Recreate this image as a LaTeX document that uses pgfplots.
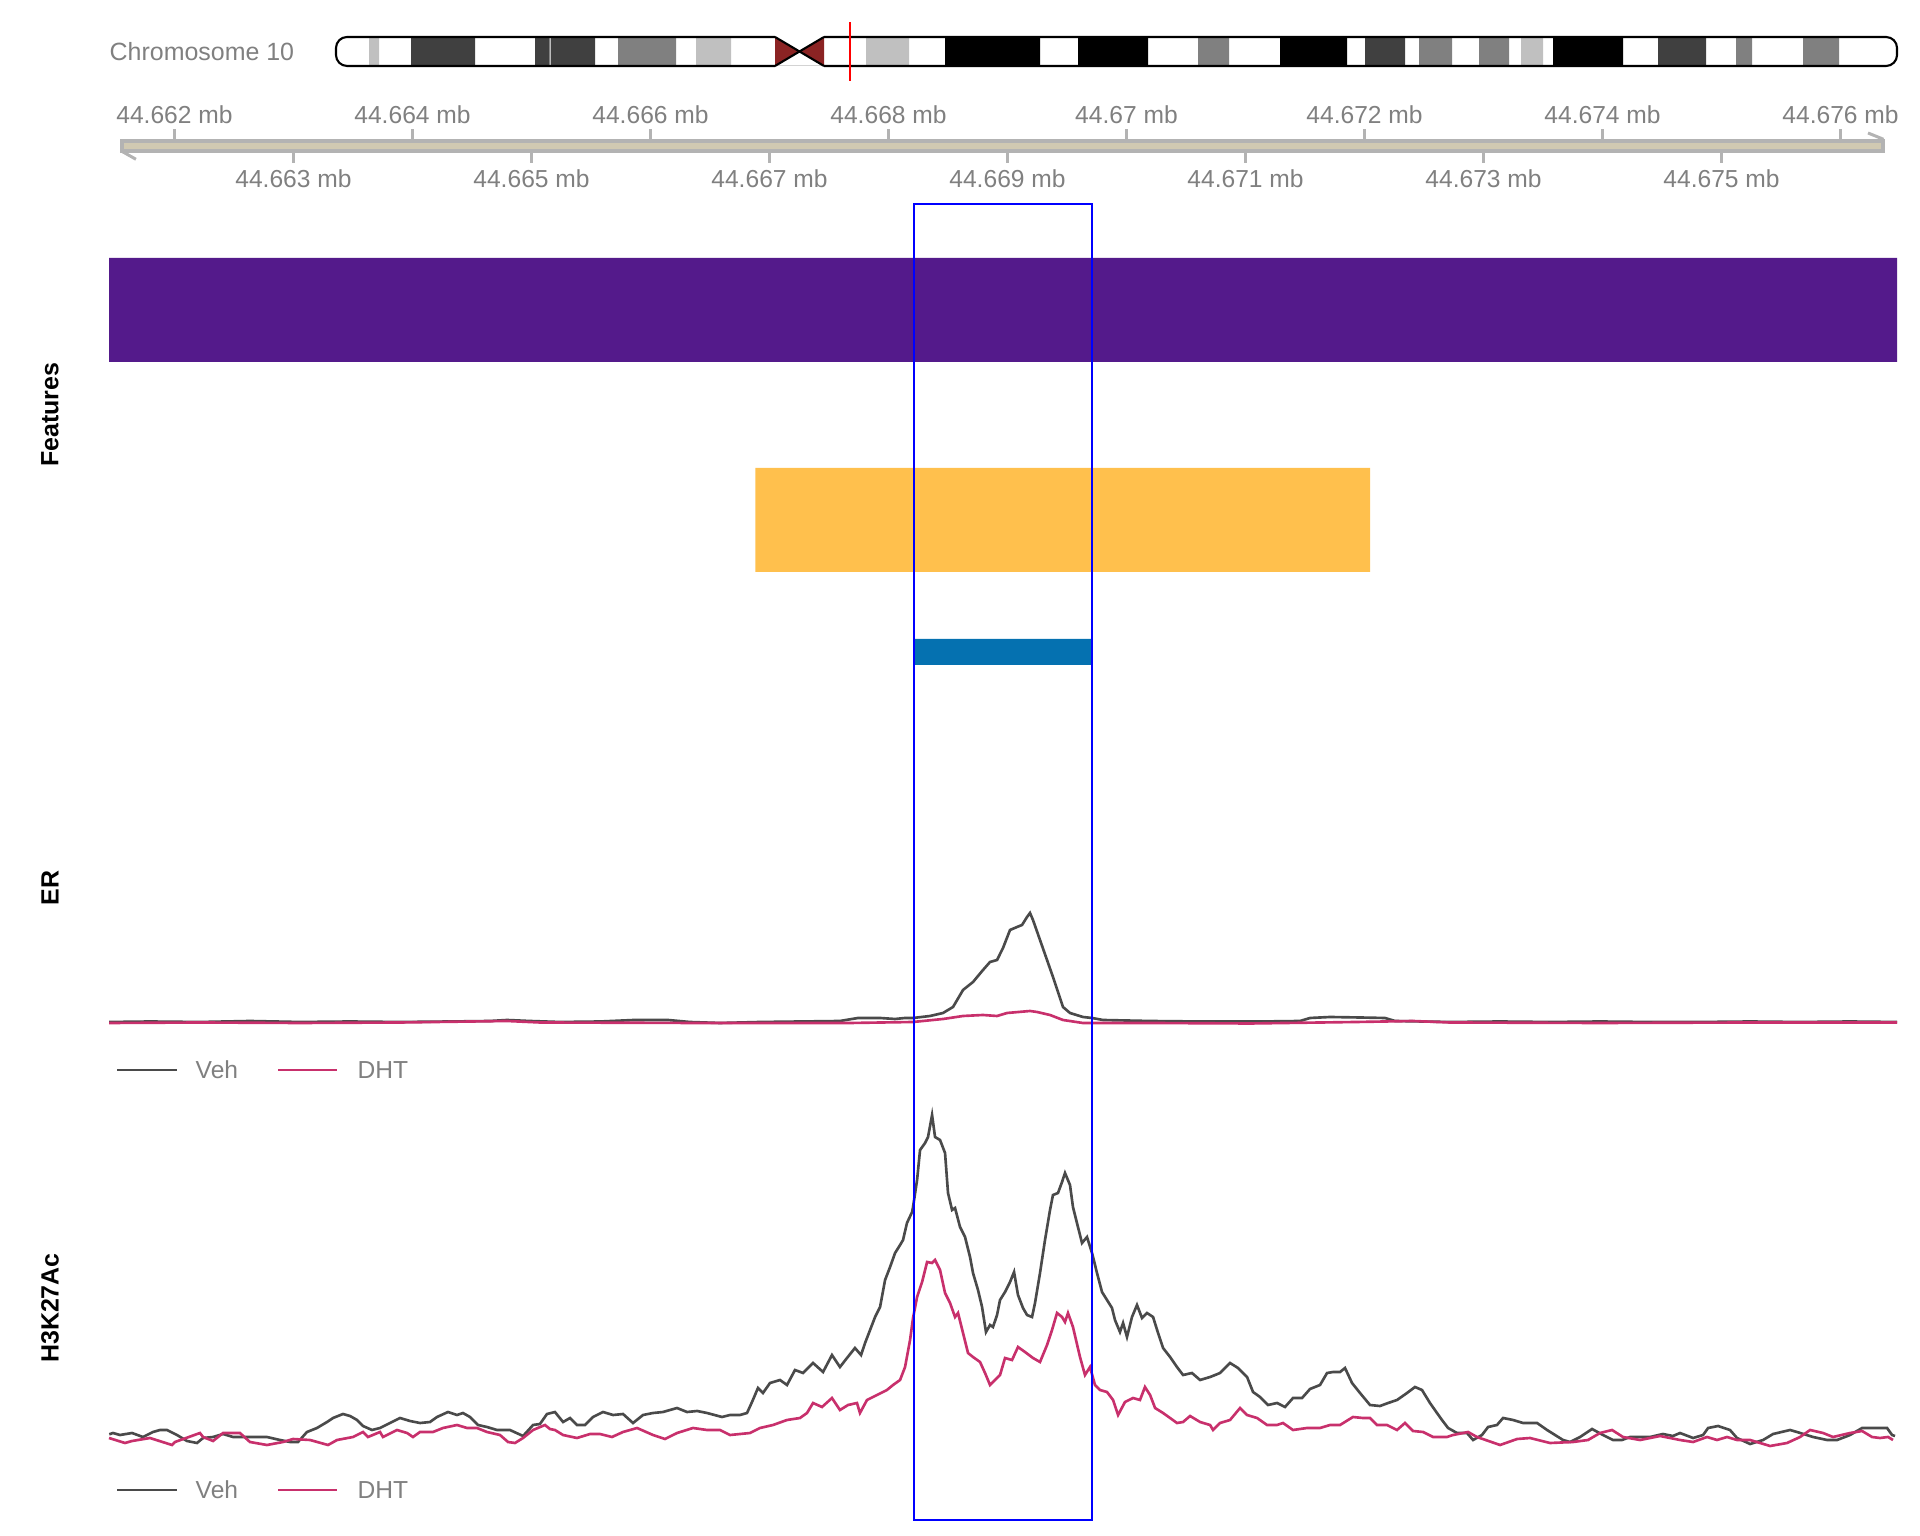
\documentclass[border=0pt]{standalone}
\usepackage{fontspec}
\setmainfont{Liberation Sans}
\usepackage{pgfplots}
\pgfplotsset{compat=1.18}
\definecolor{veh}{HTML}{4A4A4A}
\definecolor{dht}{HTML}{C8306C}
\definecolor{purp}{HTML}{541A8B}
\definecolor{orng}{HTML}{FFC04D}
\definecolor{fblue}{HTML}{0571B0}
\definecolor{cen}{HTML}{8B2323}
\definecolor{lab}{HTML}{808080}
\definecolor{bargray}{HTML}{B3B3B3}
\definecolor{barfill}{HTML}{D0C9B2}
\definecolor{bandA}{HTML}{C0C0C0}
\definecolor{bandB}{HTML}{808080}
\definecolor{bandC}{HTML}{404040}
\pgfplotsset{trk/.style={scale only axis, axis lines=none, xtick=\empty, ytick=\empty,
  xmin=1.4496, xmax=16.4745, width=17.88cm, anchor=south west, clip=false}}

\pgfplotstableread{
x y
1.452 2.57
1.483 2.7
1.542 2.5
1.643 2.7
1.735 2.3
1.819 2.8
1.878 3.0
1.937 3.0
2.021 2.5
2.105 1.9
2.189 1.7
2.240 2.2
2.324 2.3
2.408 2.6
2.492 2.3
2.634 2.3
2.777 2.3
2.887 2.0
2.971 1.8
3.038 1.8
3.113 2.8
3.197 3.2
3.282 3.8
3.332 4.2
3.416 4.6
3.475 4.4
3.534 4.0
3.584 3.4
3.660 3.0
3.727 3.2
3.811 3.7
3.895 4.2
3.979 3.9
4.063 3.7
4.147 3.8
4.206 4.3
4.298 4.8
4.374 4.5
4.424 4.7
4.483 4.3
4.550 3.5
4.626 3.3
4.710 3.0
4.819 3.0
4.929 2.4
5.013 3.5
5.071 3.6
5.130 4.6
5.197 4.8
5.265 3.8
5.324 4.2
5.382 3.5
5.450 3.5
5.517 4.3
5.601 4.8
5.685 4.5
5.769 4.6
5.853 3.7
5.937 4.5
6.021 4.7
6.105 4.8
6.223 5.2
6.307 4.8
6.391 4.9
6.475 4.7
6.601 4.3
6.668 4.5
6.752 4.5
6.811 4.7
6.853 5.8
6.903 7.2
6.945 6.7
7.004 7.7
7.088 8.0
7.147 7.5
7.214 9.0
7.282 8.7
7.366 9.7
7.450 8.8
7.525 10.5
7.592 9.3
7.651 10.2
7.718 11.2
7.769 10.5
7.803 11.7
7.845 13.0
7.887 14.3
7.929 15.3
7.971 18.0
8.013 19.3
8.055 20.7
8.097 21.5
8.122 22.0
8.155 23.7
8.198 24.8
8.206 25.3
8.240 28.0
8.265 31.0
8.307 31.7
8.332 32.3
8.366 34.5
8.391 32.3
8.433 32.0
8.475 30.7
8.500 26.7
8.534 25.0
8.559 25.2
8.601 23.3
8.643 22.3
8.685 20.3
8.710 18.7
8.752 17.0
8.786 15.3
8.819 12.8
8.853 13.5
8.878 13.3
8.912 14.5
8.937 16.0
8.979 16.8
9.021 17.8
9.055 18.8
9.088 16.5
9.130 15.2
9.164 14.5
9.206 14.3
9.231 15.7
9.273 18.7
9.315 22.0
9.357 25.0
9.382 26.5
9.424 26.7
9.458 27.8
9.483 28.7
9.525 27.5
9.550 25.3
9.592 23.3
9.626 21.7
9.668 22.3
9.710 20.7
9.752 18.7
9.794 16.8
9.836 16.0
9.878 15.2
9.903 14.0
9.945 12.8
9.971 13.7
10.004 12.3
10.046 14.3
10.088 15.5
10.130 14.2
10.172 14.7
10.223 14.3
10.265 12.7
10.307 11.2
10.366 10.3
10.424 9.3
10.475 8.5
10.550 8.7
10.618 8.0
10.702 8.3
10.786 8.7
10.870 9.7
10.937 9.2
11.013 8.3
11.063 6.8
11.122 6.3
11.189 5.5
11.265 5.7
11.332 5.3
11.399 6.2
11.475 6.2
11.542 7.1
11.626 7.5
11.685 8.7
11.735 8.8
11.794 8.8
11.836 9.2
11.895 7.7
11.962 6.7
12.046 5.5
12.130 5.4
12.198 5.7
12.273 6.0
12.357 6.7
12.424 7.3
12.483 7.0
12.550 5.7
12.609 4.7
12.651 4.0
12.702 3.2
12.777 2.7
12.861 2.7
12.912 2.0
12.987 2.5
13.038 3.3
13.113 3.5
13.164 4.2
13.248 4.0
13.332 3.7
13.450 3.7
13.534 3.0
13.601 2.5
13.668 2.0
13.727 1.8
13.811 2.3
13.912 3.1
14.004 2.5
14.088 2.0
14.164 2.0
14.231 2.3
14.315 2.3
14.399 2.3
14.508 2.6
14.592 2.4
14.651 2.7
14.761 2.2
14.845 2.5
14.887 3.2
14.971 3.4
15.071 3.0
15.130 2.2
15.240 1.6
15.349 2.0
15.433 2.6
15.576 3.0
15.634 2.8
15.769 2.3
15.887 2.0
15.971 2.0
16.080 2.5
16.181 3.2
16.273 3.2
16.391 3.2
16.433 2.5
16.458 2.4
}\acVeh

\pgfplotstableread{
x y
1.450 2.2
1.584 1.7
1.643 1.9
1.794 2.2
1.979 1.5
2.004 1.8
2.214 2.7
2.240 2.3
2.324 1.9
2.408 2.7
2.550 2.7
2.634 1.8
2.777 1.5
2.912 1.8
2.996 2.1
3.139 2.0
3.290 1.5
3.366 2.0
3.500 2.3
3.584 2.8
3.626 2.3
3.727 2.8
3.752 2.3
3.870 3.0
3.954 2.7
4.004 2.3
4.063 2.8
4.172 2.8
4.256 3.2
4.374 3.5
4.458 3.2
4.542 3.2
4.626 2.8
4.735 2.5
4.803 1.8
4.861 1.7
4.929 2.2
5.013 3.0
5.113 3.5
5.155 3.1
5.197 3.0
5.265 2.5
5.382 2.2
5.492 2.6
5.576 2.6
5.676 2.3
5.769 2.8
5.887 3.2
6.021 2.5
6.122 2.1
6.223 2.7
6.357 3.2
6.475 3.0
6.584 3.0
6.668 2.5
6.752 2.6
6.836 2.7
6.920 3.2
7.029 3.5
7.147 4.0
7.256 4.2
7.315 4.7
7.366 5.7
7.441 5.3
7.525 6.2
7.592 5.0
7.660 5.5
7.735 5.7
7.760 4.7
7.819 6.0
7.903 6.5
7.987 7.0
8.038 7.5
8.097 8.0
8.139 9.3
8.181 12.0
8.206 14.2
8.240 16.3
8.282 17.8
8.324 19.8
8.366 19.7
8.391 20.0
8.433 19.0
8.475 16.7
8.517 15.7
8.559 14.3
8.584 14.7
8.626 12.7
8.668 10.7
8.710 10.3
8.769 9.8
8.811 8.7
8.853 7.5
8.895 8.0
8.937 8.5
8.979 10.2
9.038 10.0
9.088 11.3
9.147 10.8
9.214 10.2
9.273 9.8
9.332 11.5
9.374 13.0
9.416 14.7
9.458 14.3
9.483 13.8
9.508 14.7
9.550 13.3
9.609 10.3
9.651 8.5
9.693 9.3
9.735 7.5
9.777 7.0
9.836 6.8
9.887 6.0
9.929 4.5
9.987 5.8
10.055 6.2
10.113 6.0
10.155 7.3
10.198 6.5
10.240 5.2
10.307 4.7
10.366 4.2
10.424 3.7
10.475 3.8
10.534 4.4
10.618 3.8
10.702 3.5
10.727 3.0
10.786 3.7
10.870 4.0
10.954 5.2
11.013 4.5
11.097 4.2
11.181 3.5
11.265 3.5
11.315 3.7
11.399 3.0
11.517 3.2
11.626 3.2
11.710 3.5
11.794 3.5
11.903 4.3
11.987 4.2
12.046 4.2
12.105 3.5
12.189 3.5
12.273 3.0
12.340 3.7
12.408 2.9
12.492 2.8
12.576 2.3
12.693 2.3
12.744 2.5
12.870 2.8
12.945 2.3
13.139 1.5
13.282 2.1
13.391 2.2
13.559 1.7
13.752 1.8
13.878 2.0
13.979 2.7
14.080 3.0
14.172 2.3
14.315 2.0
14.483 2.4
14.651 2.0
14.761 1.8
14.878 2.3
14.962 2.0
15.046 2.3
15.130 2.0
15.240 2.0
15.408 1.4
15.550 1.7
15.660 2.3
15.744 3.0
15.853 2.7
15.937 2.3
16.080 2.7
16.181 2.9
16.265 2.3
16.332 2.2
16.399 2.3
16.441 2.0
}\acDht

\pgfplotstableread{
x y
1.450 1.8
1.794 1.85
2.214 1.8
2.634 1.9
3.055 1.8
3.475 1.85
3.895 1.8
4.315 1.85
4.651 1.9
4.794 2.0
4.987 1.9
5.240 1.8
5.576 1.85
5.861 2.0
6.147 2.0
6.332 1.8
6.584 1.7
6.920 1.8
7.256 1.85
7.592 1.9
7.744 2.2
7.929 2.2
8.055 2.1
8.139 2.2
8.206 2.2
8.349 2.4
8.458 2.7
8.542 3.3
8.626 5.0
8.710 5.8
8.794 7.0
8.853 7.8
8.912 8.0
8.962 9.2
9.021 11.0
9.080 11.3
9.122 11.5
9.164 12.3
9.189 12.7
9.214 12.0
9.273 10.0
9.382 6.3
9.466 3.3
9.525 2.7
9.634 2.3
9.710 2.2
9.803 2.0
10.198 1.9
10.618 1.85
11.122 1.85
11.458 1.9
11.542 2.2
11.710 2.3
11.962 2.25
12.172 2.2
12.256 1.9
12.718 1.8
13.139 1.85
13.559 1.8
13.979 1.85
14.399 1.8
14.819 1.8
15.240 1.85
15.660 1.8
16.080 1.85
16.475 1.8
}\erVeh

\pgfplotstableread{
x y
1.450 1.7
2.214 1.75
3.055 1.7
3.895 1.75
4.794 1.9
5.071 1.75
6.416 1.7
7.677 1.7
8.206 1.8
8.458 2.1
8.626 2.4
8.794 2.5
8.912 2.4
8.996 2.7
9.189 2.9
9.248 2.8
9.357 2.5
9.466 2.0
9.634 1.7
10.198 1.7
11.038 1.65
11.929 1.8
12.408 1.9
12.718 1.75
13.979 1.7
15.240 1.75
16.475 1.75
}\erDht

\begin{document}
\begin{tikzpicture}[font=\fontsize{7}{8.4}\selectfont]
\path[use as bounding box] (0,0) rectangle (19.2,15.36);

% ---------- ideogram ----------
\begin{axis}[scale only axis, axis lines=none, xtick=\empty, ytick=\empty, clip=false,
  xmin=0, xmax=1920, ymin=0, ymax=1, width=19.2cm, height=0.29cm,
  at={(0cm,14.70cm)}, anchor=south west]
\addplot[const plot, fill=bandA, draw=none] coordinates {(369,1)(379,0)(696,1)(731,0)(866,1)(909,0)(1521,1)(1543,0)} \closedcycle;
\addplot[const plot, fill=bandB, draw=none] coordinates {(618,1)(676,0)(1198,1)(1229,0)(1419,1)(1452,0)(1479,1)(1509,0)(1736,1)(1752,0)(1803,1)(1839,0)} \closedcycle;
\addplot[const plot, fill=bandC, draw=none] coordinates {(411,1)(475,0)(535,1)(549.5,0)(550.5,1)(595,0)(1365,1)(1405,0)(1658,1)(1706,0)} \closedcycle;
\addplot[const plot, fill=black, draw=none] coordinates {(945,1)(1040,0)(1078,1)(1148,0)(1280,1)(1347,0)(1553,1)(1623,0)} \closedcycle;
\addplot[fill=cen, draw=none] coordinates {(775,1)(799,0.5)(775,0)(775,1)};
\addplot[fill=cen, draw=none] coordinates {(824,1)(799,0.5)(824,0)(824,1)};
\addplot[draw=black, line width=0.6pt, rounded corners=0.11cm] coordinates {(775,1)(336,1)(336,0)(775,0)};
\addplot[draw=black, line width=0.6pt, rounded corners=0.11cm] coordinates {(824,1)(1897,1)(1897,0)(824,0)};
\addplot[draw=black, line width=0.6pt] coordinates {(775,1)(824,0)};
\addplot[draw=black, line width=0.6pt] coordinates {(775,0)(824,1)};
\addplot[draw=red, line width=0.7pt] coordinates {(850,-0.517)(850,1.517)};
\end{axis}
\node[anchor=west, inner sep=0pt, text=lab, font=\fontsize{7.1}{8.5}\selectfont] at (1.09,14.84) {Chromosome 10};

% ---------- genome axis ----------
\begin{scope}[x=1.19cm, xshift=-0.635cm]
\draw[bargray, fill=barfill, line width=0.04cm] (1.559,13.95) rectangle (16.357,13.85);
\draw[bargray, line width=0.03cm] (1.563,13.843) -- (1.676,13.767);
\draw[bargray, line width=0.03cm] (16.231,14.03) -- (16.361,13.967);
\foreach \x/\l in {2/44.662,4/44.664,6/44.666,8/44.668,10/44.67,12/44.672,14/44.674,16/44.676}{
  \draw[bargray, line width=0.025cm] (\x,13.97) -- (\x,14.07);
  \node[text=lab, inner sep=0pt] at (\x,14.21) {\l\ mb};
}
\foreach \x/\l in {3/44.663,5/44.665,7/44.667,9/44.669,11/44.671,13/44.673,15/44.675}{
  \draw[bargray, line width=0.025cm] (\x,13.83) -- (\x,13.73);
  \node[text=lab, inner sep=0pt] at (\x,13.57) {\l\ mb};
}
\end{scope}

% ---------- features ----------
\begin{axis}[trk, ymin=0, ymax=496, height=4.96cm, at={(1.09cm,8.36cm)}]
\addplot[fill=purp, draw=none] coordinates {(1.4496,338)(16.4745,338)(16.4745,442)(1.4496,442)(1.4496,338)};
\addplot[fill=orng, draw=none] coordinates {(6.882,128)(12.046,128)(12.046,232)(6.882,232)(6.882,128)};
\addplot[fill=fblue, draw=none] coordinates {(8.21,35)(9.71,35)(9.71,61)(8.21,61)(8.21,35)};
\end{axis}

% ---------- ER ----------
\begin{axis}[trk, ymin=0, ymax=14, height=1.40cm, at={(1.09cm,4.96cm)}]
\addplot[veh, line width=0.75pt] table {\erVeh};
\addplot[dht, line width=0.75pt] table {\erDht};
\end{axis}

% ---------- H3K27Ac ----------
\begin{axis}[trk, ymin=0, ymax=37, height=3.70cm, at={(1.09cm,0.76cm)}]
\addplot[veh, line width=0.75pt] table {\acVeh};
\addplot[dht, line width=0.75pt] table {\acDht};
\end{axis}

% ---------- highlight ----------
\begin{axis}[trk, ymin=0, ymax=1, height=13.151cm, at={(1.09cm,0.164cm)}]
\addplot[draw=blue, line width=0.02cm] coordinates {(8.21,0)(9.71,0)(9.71,1)(8.21,1)} -- cycle;
\end{axis}

% ---------- track titles ----------
\node[rotate=90, font=\fontsize{7.1}{8.5}\selectfont\bfseries] at (0.50,11.21) {Features};
\node[rotate=90, font=\fontsize{7.1}{8.5}\selectfont\bfseries] at (0.50,6.48) {ER};
\node[rotate=90, font=\fontsize{7.1}{8.5}\selectfont\bfseries] at (0.50,2.28) {H3K27Ac};

% ---------- legends ----------
\foreach \yy in {4.66,0.46}{
  \draw[veh, line width=0.75pt] (1.17,\yy) -- (1.77,\yy);
  \node[anchor=west, inner sep=0pt, text=lab] at (1.95,\yy) {Veh};
  \draw[dht, line width=0.75pt] (2.78,\yy) -- (3.37,\yy);
  \node[anchor=west, inner sep=0pt, text=lab] at (3.57,\yy) {DHT};
}
\end{tikzpicture}
\end{document}
